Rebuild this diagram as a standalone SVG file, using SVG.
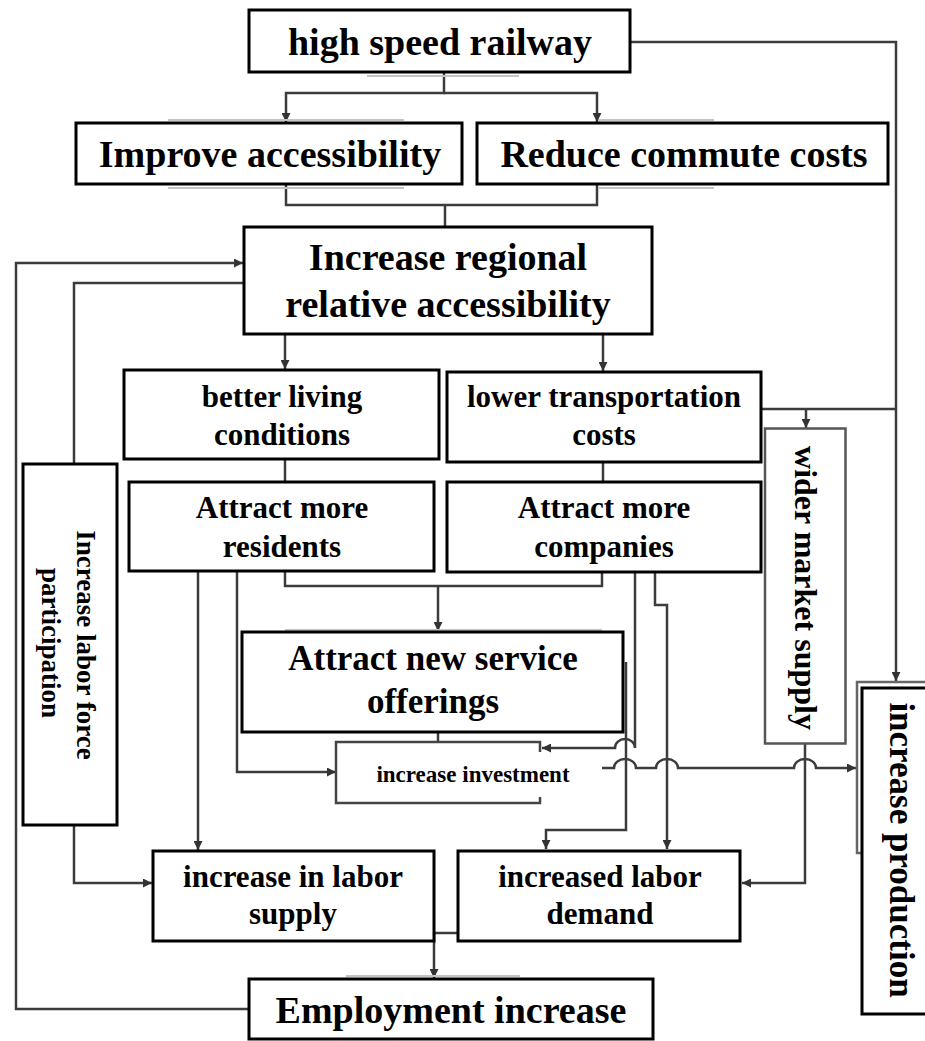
<svg xmlns="http://www.w3.org/2000/svg" width="925" height="1041" viewBox="0 0 925 1041">
  <defs>
    <marker id="arrow" viewBox="0 0 10 10" refX="10" refY="5" markerWidth="9" markerHeight="9" markerUnits="userSpaceOnUse" orient="auto">
      <path d="M0,0 L10,5 L0,10 Z" fill="#333"/>
    </marker>
    <style>
      .box { fill: #fff; stroke: #000; stroke-width: 3; }
      .thin { fill: #fff; stroke: #555; stroke-width: 2.5; }
      .line { fill: none; stroke: #3c3c3c; stroke-width: 2.5; }
      .arr { marker-end: url(#arrow); }
      .shade { fill: none; stroke: #c4c4c4; stroke-width: 2; }
      text { font-family: "Liberation Serif", "Times New Roman", serif; font-weight: bold; fill: #000; text-anchor: middle; }
      .t38 { font-size: 38px; }
      .t35 { font-size: 35px; }
      .t31 { font-size: 31px; }
      .t27 { font-size: 27px; }
      .t32 { font-size: 32px; }
      .t23 { font-size: 23px; }
    </style>
  </defs>

  <!-- connectors -->
  <g id="connectors">
    <path class="line arr" d="M444,72 V93 H286 V122"/>
    <path class="line arr" d="M444,93 H597 V122"/>
    <path class="line" d="M286,184 V205 H597 V184 M445,205 V227"/>
    <path class="line arr" d="M630,42 H896 V681"/>
    <path class="line arr" d="M285,334 V369"/>
    <path class="line arr" d="M603,334 V371"/>
    <path class="line" d="M285,459 V482"/>
    <path class="line" d="M603,462 V482"/>
    <path class="line" d="M761,409 H896"/>
    <path class="line arr" d="M806,409 V428"/>
    <path class="line" d="M285,571 V586 H602 V572"/>
    <path class="line arr" d="M438,586 V631"/>
    <path class="line arr" d="M198,571 V850"/>
    <path class="line arr" d="M237,571 V772 H336"/>
    <path class="line arr" d="M635,572 V748 A10,9 0 0 0 615,748 H542"/>
    <path class="line arr" d="M655,572 V605 H667 V849"/>
    <path class="line arr" d="M626,662 V830 H546 V849"/>
    <path class="line" d="M438,732 V742"/>
    <path class="line arr" d="M602,768 H614 A11,9 0 0 1 636,768 H656 A11,9 0 0 1 678,768 H794 A11,9 0 0 1 816,768 H856"/>
    <path class="line arr" d="M805,743 V883 H742"/>
    <path class="line arr" d="M74,826 V883 H152"/>
    <path class="line" d="M74,464 V283 H244"/>
    <path class="line arr" d="M249,1009 H16 V263 H243"/>
    <path class="line arr" d="M458,933 H434 V978"/>
  </g>

  <g id="hsr">
    <rect class="box" x="249" y="10" width="381" height="62"/>
    <path class="shade" d="M367,76 H519"/>
    <text class="t38" x="440" y="55">high speed railway</text>
  </g>

  <g id="improve">
    <path class="shade" d="M168,120 H404 M168,188 H404"/>
    <rect class="box" x="76" y="123" width="386" height="61"/>
    <text class="t38" x="270" y="167">Improve accessibility</text>
  </g>

  <g id="reduce">
    <path class="shade" d="M599,120 H714 M599,188 H714"/>
    <rect class="box" x="477" y="123" width="411" height="61"/>
    <text class="t38" x="684" y="167">Reduce commute costs</text>
  </g>

  <g id="regional">
    <rect class="box" x="244" y="227" width="408" height="107"/>
    <text class="t38" x="448" y="270">Increase regional</text>
    <text class="t38" x="448" y="317">relative accessibility</text>
  </g>

  <g id="living">
    <rect class="box" x="124" y="370" width="315" height="89"/>
    <text class="t31" x="282" y="407">better living</text>
    <text class="t31" x="282" y="445">conditions</text>
  </g>

  <g id="transport">
    <rect class="box" x="447" y="372" width="314" height="90"/>
    <text class="t31" x="604" y="407">lower transportation</text>
    <text class="t31" x="604" y="445">costs</text>
  </g>

  <g id="residents">
    <rect class="box" x="129" y="482" width="305" height="89"/>
    <text class="t31" x="282" y="518">Attract more</text>
    <text class="t31" x="282" y="557">residents</text>
  </g>

  <g id="companies">
    <rect class="box" x="447" y="482" width="314" height="90"/>
    <text class="t31" x="604" y="518">Attract more</text>
    <text class="t31" x="604" y="557">companies</text>
  </g>

  <g id="market">
    <rect class="thin" x="765" y="428.5" width="80.5" height="315"/>
    <text class="t32" transform="translate(795,588) rotate(90)">wider market supply</text>
  </g>

  <g id="participation">
    <rect class="box" x="23" y="464" width="94" height="361"/>
    <text class="t27" transform="translate(77,645) rotate(90)">Increase labor force</text>
    <text class="t27" transform="translate(42,643) rotate(90)">participation</text>
  </g>

  <g id="services">
    <path class="shade" d="M285,630 H602"/>
    <rect class="box" x="242" y="632" width="381" height="100"/>
    <text class="t35" x="433" y="670">Attract new service</text>
    <text class="t35" x="433" y="713">offerings</text>
  </g>

  <g id="investment">
    <path fill="none" stroke="#444" stroke-width="2.5" d="M540,752 V742 H336 V803 H540 V797"/>
    <text class="t23" x="473" y="782">increase investment</text>
  </g>

  <g id="production">
    <path fill="none" stroke="#666" stroke-width="2.5" d="M862,853 H857 V682 H930"/>
    <rect class="box" x="862" y="688" width="70" height="326"/>
    <text class="t35" transform="translate(890,850) rotate(90)">increase production</text>
  </g>

  <g id="supply">
    <rect class="box" x="153" y="851" width="281" height="90"/>
    <text class="t31" x="293" y="887">increase in labor</text>
    <text class="t31" x="293" y="924">supply</text>
  </g>

  <g id="demand">
    <rect class="box" x="458" y="851" width="282" height="90"/>
    <text class="t31" x="600" y="887">increased labor</text>
    <text class="t31" x="600" y="924">demand</text>
  </g>

  <g id="employment">
    <path class="shade" d="M346,976 H520"/>
    <rect class="box" x="249" y="979" width="404" height="60"/>
    <text class="t38" x="451" y="1023">Employment increase</text>
  </g>
</svg>
